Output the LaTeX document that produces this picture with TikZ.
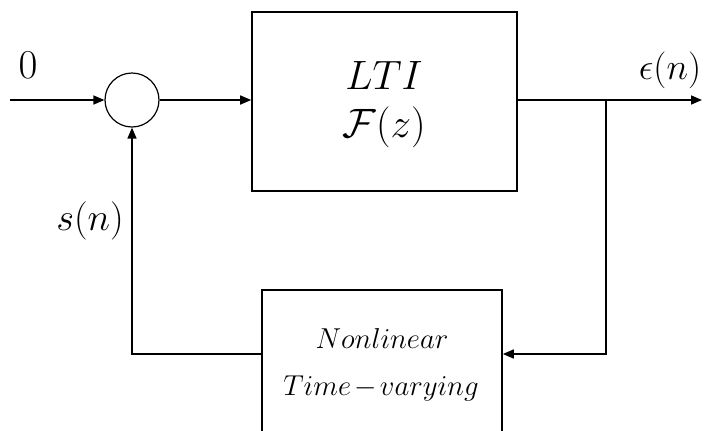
\RequirePackage{fix-cm}
\documentclass[tikz,border=0pt]{standalone}
\usetikzlibrary{arrows.meta}
\begin{document}
\begin{tikzpicture}[x=0.5pt,y=-0.5pt,
  wire/.style={line width=0.8pt},
  flow/.style={wire,-{Triangle[length=5.5pt,width=4.5pt]}},
  block/.style={draw,line width=0.8pt,rectangle,inner sep=0pt},
  junc/.style={draw,line width=0.6pt,circle,minimum size=27pt,inner sep=0pt},
  big/.style={inner sep=0pt,font=\fontsize{20.5}{24}\selectfont},
  small/.style={inner sep=0pt,font=\fontsize{14.4}{17}\selectfont}]
\useasboundingbox (0,0) rectangle (706,430);
\clip (0,0) rectangle (706,430);

% summing junction and the two blocks
\node[junc] (sum) at (132,100) {};
\node[block,minimum width=132.5pt,minimum height=89.5pt] (lti) at (384.5,101.5) {};
\node[block,minimum width=120pt,minimum height=100pt,anchor=north] (nl) at (382,289) {};

% block labels
\node[big] (ltitxt) at (384,75) {$LTI$};
\node[big] (fz) at (384,127) {$\mathcal{F}(z)$};
\node[small] (nltxt) at (382,338) {$Nonlinear$};
\node[small] (tvtxt) at (381,388) {$Time\mkern-2mu-\mkern-2mu varying$};

% signal labels
\node[inner sep=0pt,font=\fontsize{20.5}{24}\selectfont] (zero) at (28,65) {$0$};
\node[inner sep=0pt,font=\fontsize{18.4}{22}\selectfont] (eps) at (670,70) {$\epsilon(n)$};
\node[inner sep=0pt,font=\fontsize{19.2}{23}\selectfont] (sn) at (90,221) {$s(n)$};

% helper points
\coordinate (in) at (10,100);
\coordinate (out) at (702,100);
\coordinate (j) at (606,100);
\coordinate (fb) at (606,354);

% connectors
\draw[flow] (in) -- (sum.west);
\draw[flow] (sum.east) -- (sum.east -| lti.west);
\draw[flow] (lti.east |- sum) -- (out);
\draw[flow] (j) -- (fb) -- (fb -| nl.east);
\draw[flow] (nl.west |- fb) -| (sum.south);
\end{tikzpicture}
\end{document}
